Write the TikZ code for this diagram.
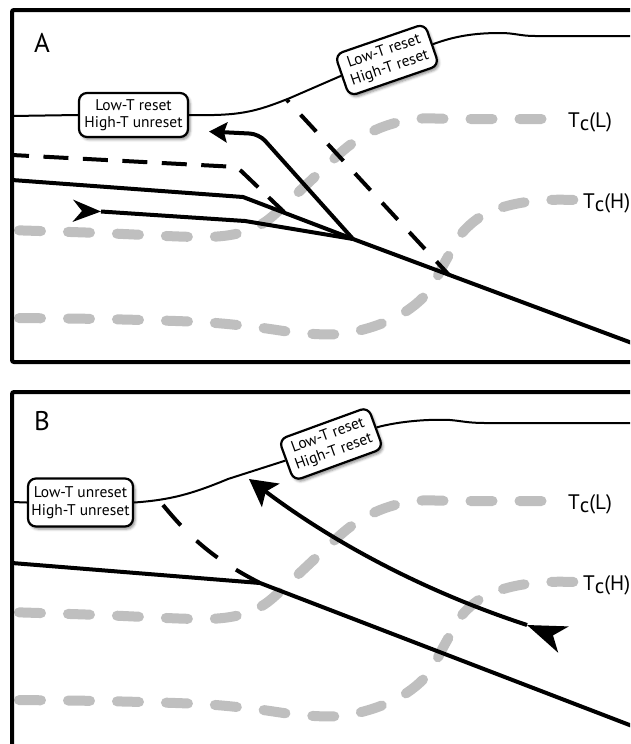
\documentclass[tikz,border=0pt]{standalone}
\usepackage{fontspec}
\setmainfont{PT Sans}
\usetikzlibrary{arrows.meta,shadows.blur}

\tikzset{
  frame/.style={line width=4pt, rounded corners=2pt},
  fault/.style={line width=4pt, line join=round},
  faultdash/.style={fault, dash pattern=on 25pt off 14.5pt},
  surface/.style={line width=2pt},
  tcline/.style={line width=10pt, black!25, line cap=round,
    dash pattern=on 22pt off 27pt, dash phase=37pt},
  tclabel/.style={inner sep=0pt, anchor=base west, font=\fontsize{21}{25}\selectfont},
  panellabel/.style={inner sep=0pt, anchor=base west, font=\fontsize{27}{30}\selectfont},
  statebox/.style={draw, line width=2.2pt, fill=white, rounded corners=8pt,
    align=center, inner sep=1pt, font=\fontsize{15.5}{17.5}\selectfont,
    blur shadow={shadow xshift=2pt, shadow yshift=-2.5pt,
      shadow blur radius=2.5pt, shadow opacity=45}},
  % closure-temperature isotherms, identical in both panels
  tcpair/.pic={
    \draw[tcline] plot[smooth, tension=0.55] coordinates {
      (7,230) (100,233) (200,237) (240,233) (265,222) (290,200) (320,172)
      (350,145) (380,128) (415,119) (460,119) (548,119)};
    \draw[tcline] plot[smooth, tension=0.55] coordinates {
      (7,318) (100,319) (200,322) (255,327) (300,333) (340,334) (375,326)
      (405,312) (428,292) (445,262) (462,233) (485,214) (515,204)
      (548,200) (578,200)};
    \node[tclabel] (-L) at (568,127) {T\raisebox{-3.5pt}{c}(L)};
    \node[tclabel] (-H) at (583,208) {T\raisebox{-3.5pt}{c}(H)};
  },
}

\begin{document}
\begin{tikzpicture}[x=1pt, y=-1pt]
  \useasboundingbox (0,0) rectangle (630,744);
  \clip (0,0) rectangle (630,744);

  % ---------------- panel A ----------------
  \pic (tcA) at (0,0) {tcpair};

  \coordinate (jA) at (353,239);
  % main fault and its splays
  \draw[fault] (640,346) -- (jA);
  \draw[fault] (12,180) -- (243,197) -- (jA);
  \draw[fault, -{Stealth[length=28pt, width=22pt, inset=9pt]}] (82,211) -- (101,211.5);
  \draw[fault] (101,211.5) -- (245,221) -- (jA);
  \draw[fault, rounded corners=9pt, -{Stealth[length=18pt, width=20pt, inset=3pt]}]
    (jA) -- (259,134) -- (209,131.5);
  \draw[faultdash, rounded corners=6pt, dash phase=8pt] (12,155) -- (237,167) -- (284,212);
  \draw[fault, dash pattern=on 23pt off 17pt, dash phase=20pt] (287,100) -- (449,275);

  % ground surface with state boxes
  \node[statebox, minimum width=109pt, minimum height=44pt] (boxA1) at (133.5,115)
    {Low-T reset\\High-T unreset};
  \node[statebox, minimum width=95pt, minimum height=44pt, rotate=19] (boxA2) at (387,60)
    {Low-T reset\\High-T reset};
  \draw[surface] (12,116) -- (boxA1.west);
  \draw[surface] (boxA1.east) .. controls (240,116) and (255,112) .. (290,98) -- (boxA2.west);
  \draw[surface] (boxA2.east) .. controls (455,36) and (475,33) .. (500,33)
    .. controls (515,33) and (520,36) .. (535,36) -- (640,36);

  \node[panellabel] (labA) at (34,52) {A};
  \draw[frame] (640,362) -- (12,362) -- (12,10) -- (640,10);

  % ---------------- panel B ----------------
  \pic (tcB) at (0,382) {tcpair};

  \coordinate (jB) at (260,583);
  \draw[fault] (12,563) -- (jB) -- (640,729);
  \draw[fault, dash pattern=on 27pt off 22pt] (163,505) .. controls (190,538) and (215,560) .. (jB);
  \draw[fault, -{Stealth[length=39pt, width=28pt, inset=11pt]}] (552,635) -- (527,625);
  \draw[fault, -{Stealth[length=27pt, width=29pt, inset=6pt]}]
    (527,625) .. controls (420,590) and (330,540) .. (249,479);

  \node[statebox, minimum width=105pt, minimum height=48pt] (boxB1) at (80.5,502.5)
    {Low-T unreset\\High-T unreset};
  \node[statebox, minimum width=95pt, minimum height=44pt, rotate=20] (boxB2) at (331,444)
    {Low-T reset\\High-T reset};
  \draw[surface] (12,502) -- (boxB1.west);
  \draw[surface] (boxB1.east) .. controls (170,500) and (192,494) .. (228,479) -- (boxB2.west);
  \draw[surface] (boxB2.east) .. controls (400,421) and (430,419) .. (450,420)
    .. controls (462,421) and (468,423) .. (485,423) -- (640,423);

  \node[panellabel] (labB) at (34,430) {B};
  \draw[frame] (12,750) -- (12,392) -- (640,392);
\end{tikzpicture}
\end{document}
